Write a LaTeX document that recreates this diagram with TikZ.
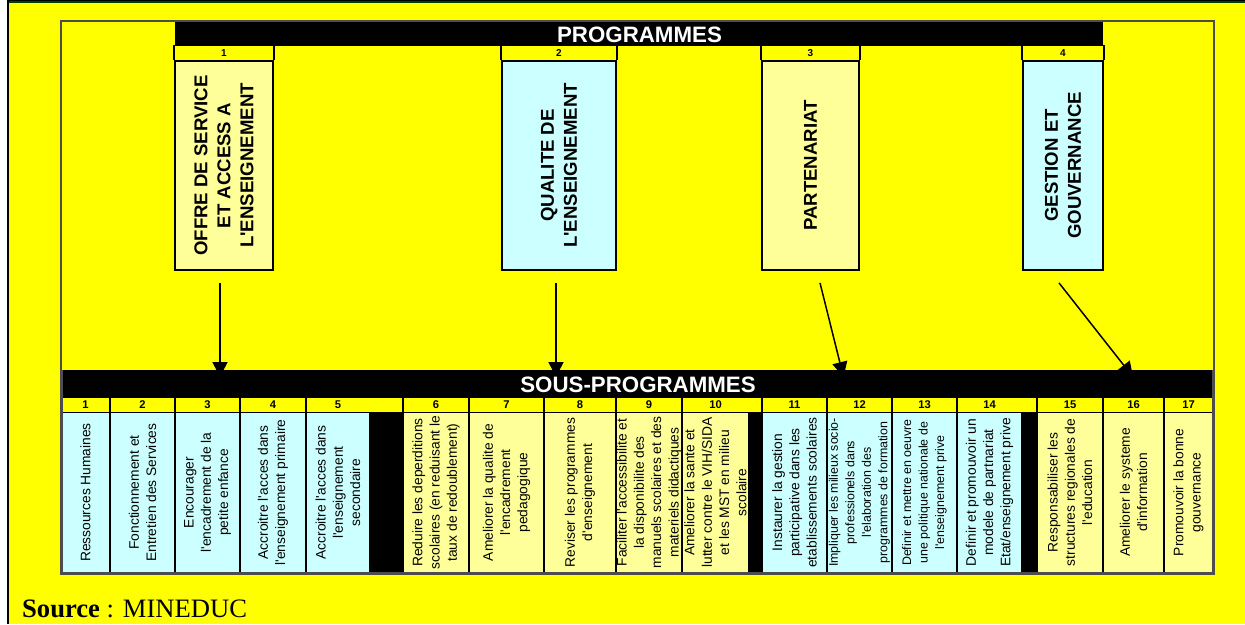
\documentclass[tikz,border=0pt]{standalone}
\usepackage{fontspec}
\newfontfamily\arialf{Liberation Sans}
\newfontfamily\timesf{Liberation Serif}
\usetikzlibrary{arrows.meta}
\definecolor{bgyel}{HTML}{FFFF00}
\definecolor{lyel}{HTML}{FFFF99}
\definecolor{lcyan}{HTML}{CCFFFF}
\definecolor{framegray}{HTML}{4D4D4D}
\definecolor{dgreen}{HTML}{004000}
\begin{document}
\begin{tikzpicture}[x=1pt,y=-1pt,
 pbox/.style={draw=black, line width=1.8pt, inner sep=0pt, anchor=center},
 ptext/.style={rotate=90, align=center, font={\arialf\bfseries\fontsize{18.6}{23}\selectfont}, inner sep=0pt},
 pnum/.style={font={\arialf\bfseries\fontsize{10}{12}\selectfont}, inner sep=0pt},
 snum/.style={font={\arialf\bfseries\fontsize{11.2}{13}\selectfont}, inner sep=0pt},
 scell/.style={draw=black, line width=1.5pt, inner sep=0pt, minimum height=161pt},
 stext/.style={rotate=90, align=center, font={\arialf\fontsize{13.8}{17.3}\selectfont}, inner sep=0pt},
 stextsmall/.style={stext, font={\arialf\fontsize{12.4}{16.5}\selectfont}},
 titletext/.style={text=white, font={\arialf\bfseries\fontsize{22.3}{26}\selectfont}, inner sep=0pt},
 arr/.style={line width=1.5pt, -{Triangle[length=15pt,width=15pt]}},
]
\useasboundingbox (0,0) rectangle (1245,624);
% background
\fill[white] (0,0) rectangle (7,624);
\fill[bgyel] (7,0) rectangle (1245,624);
\fill[black] (7,0) rectangle (9,624);
\fill[black] (7,0) rectangle (1245,1);
\fill[dgreen] (9,1) rectangle (1245,3);
% inner frame
\draw[framegray, line width=2pt] (61,21) rectangle (1214,574);

% PROGRAMMES bar
\fill[black] (175,22) rectangle (1103,46);
\node[titletext] (ptitle) at (639.5,34.5) {PROGRAMMES};

% programme boxes
\node[pbox, fill=lyel, minimum width=98pt, minimum height=209pt] (p1) at (224,165.5) {};
\node[pbox, fill=lcyan, minimum width=114pt, minimum height=209pt] (p2) at (559,165.5) {};
\node[pbox, fill=lyel, minimum width=97pt, minimum height=209pt] (p3) at (810.5,165.5) {};
\node[pbox, fill=lcyan, minimum width=80pt, minimum height=209pt] (p4) at (1063,165.5) {};
\foreach \p in {p1,p2,p3,p4}{
  \draw[line width=1.8pt] (\p.north west) -- ++(0,-15.5);
  \draw[line width=1.8pt] (\p.north east) -- ++(0,-15.5);
}
\node[pnum] (n1) at ([yshift=7.5pt]p1.north) {1};
\node[pnum] (n2) at ([yshift=7.5pt]p2.north) {2};
\node[pnum] (n3) at ([yshift=7.5pt]p3.north) {3};
\node[pnum] (n4) at ([yshift=7.5pt]p4.north) {4};
\node[ptext] (p1t) at (p1) {OFFRE DE SERVICE\\ET ACCESS A\\L'ENSEIGNEMENT};
\node[ptext] (p2t) at (p2) {QUALITE DE\\L'ENSEIGNEMENT};
\node[ptext] (p3t) at (p3) {PARTENARIAT};
\node[ptext] (p4t) at (p4) {GESTION ET\\GOUVERNANCE};

% arrows
\coordinate (e1) at (220,377);
\coordinate (e2) at (556,377);
\coordinate (e3) at (843.5,377);
\coordinate (e4) at (1133,377);
\draw[arr] ([xshift=-4pt,yshift=-12pt]p1.south) -- (e1);
\draw[arr] ([xshift=-3pt,yshift=-12pt]p2.south) -- (e2);
\draw[arr] ([xshift=9.5pt,yshift=-12pt]p3.south) -- (e3);
\draw[arr] ([xshift=-4pt,yshift=-12pt]p4.south) -- (e4);

% SOUS-PROGRAMMES bar
\fill[black] (61,370) rectangle (1214,398);
\node[titletext] (stitle) at (638,384.5) {SOUS-PROGRAMMES};

% separators
\fill[black] (370,412) rectangle (403,573);
\fill[black] (749,412) rectangle (762,573);
\fill[black] (1022,412) rectangle (1037,573);

% content cells
\node[scell, fill=lcyan, minimum width=49pt] (s1) at (85.5,492.5) {};
\node[scell, fill=lcyan, minimum width=65pt] (s2) at (142.5,492.5) {};
\node[scell, fill=lcyan, minimum width=65pt] (s3) at (207.5,492.5) {};
\node[scell, fill=lcyan, minimum width=66pt] (s4) at (273,492.5) {};
\node[scell, fill=lcyan, minimum width=64pt] (s5) at (338,492.5) {};
\node[scell, fill=lyel, minimum width=66pt] (s6) at (436,492.5) {};
\node[scell, fill=lyel, minimum width=75pt] (s7) at (506.5,492.5) {};
\node[scell, fill=lyel, minimum width=72pt] (s8) at (580,492.5) {};
\node[scell, fill=lyel, minimum width=66pt] (s9) at (649,492.5) {};
\node[scell, fill=lyel, minimum width=67pt] (s10) at (715.5,492.5) {};
\node[scell, fill=lcyan, minimum width=65pt] (s11) at (794.5,492.5) {};
\node[scell, fill=lcyan, minimum width=65pt] (s12) at (859.5,492.5) {};
\node[scell, fill=lcyan, minimum width=65pt] (s13) at (924.5,492.5) {};
\node[scell, fill=lcyan, minimum width=65pt] (s14) at (989.5,492.5) {};
\node[scell, fill=lyel, minimum width=66pt] (s15) at (1070,492.5) {};
\node[scell, fill=lyel, minimum width=61pt] (s16) at (1133.5,492.5) {};
\node[scell, fill=lyel, minimum width=49pt] (s17) at (1188.5,492.5) {};

% cell texts
\node[stext] (t1) at (s1) {Ressources Humaines};
\node[stext] (t2) at (s2) {Fonctionnement et\\Entretien des Services};
\node[stext] (t3) at (s3) {Encourager\\l'encadrement de la\\petite enfance};
\node[stext] (t4) at (s4) {Accroitre l'acces dans\\l'enseignement primaire};
\node[stext] (t5) at (s5) {Accroitre l'acces dans\\l'enseignement\\secondaire};
\node[stext] (t6) at (s6) {Reduire les deperditions\\scolaires (en reduisant le\\taux de redoublement)};
\node[stext] (t7) at (s7) {Ameliorer la qualite de\\l'encadrement\\pedagogique};
\node[stext] (t8) at (s8) {Reviser les programmes\\d'enseignement};
\node[stext] (t9) at (s9) {Faciliter l'accessibilite et\\la disponibilite des\\manuels scolaires et des\\materiels didactiques};
\node[stext] (t10) at (s10) {Ameliorer la sante et\\lutter contre le VIH/SIDA\\et les MST en milieu\\scolaire};
\node[stext] (t11) at (s11) {Instaurer la gestion\\participative dans les\\etablissements scolaires};
\node[stextsmall] (t12) at (s12) {Impliquer les milieux socio-\\professionels dans\\l'elaboration des\\programmes de formation};
\node[stextsmall] (t13) at (s13) {Definir et mettre en oeuvre\\une politique nationale de\\l'enseignement prive};
\node[stext] (t14) at (s14) {Definir et promouvoir un\\modele de partnariat\\Etat/enseignement prive};
\node[stext] (t15) at (s15) {Responsabiliser les\\structures regionales de\\l'education};
\node[stext] (t16) at (s16) {Ameliorer le systeme\\d'information};
\node[stext] (t17) at (s17) {Promouvoir la bonne\\gouvernance};

% number row
\fill[bgyel] (61,398) rectangle (1214,412);
\draw[line width=1.5pt] (61,412.5) -- (1214,412.5);
\foreach \xx in {110,175,240,306,403,469,544,616,682,762,827,892,957,1037,1103,1164}{
  \draw[line width=1.5pt] (\xx,398) -- (\xx,412.5);
}
\node[snum] (m1) at (85.5,405) {1};
\node[snum] (m2) at (142.5,405) {2};
\node[snum] (m3) at (207.5,405) {3};
\node[snum] (m4) at (273,405) {4};
\node[snum] (m5) at (338,405) {5};
\node[snum] (m6) at (436,405) {6};
\node[snum] (m7) at (506.5,405) {7};
\node[snum] (m8) at (580,405) {8};
\node[snum] (m9) at (649,405) {9};
\node[snum] (m10) at (715.5,405) {10};
\node[snum] (m11) at (794.5,405) {11};
\node[snum] (m12) at (859.5,405) {12};
\node[snum] (m13) at (924.5,405) {13};
\node[snum] (m14) at (989.5,405) {14};
\node[snum] (m15) at (1070,405) {15};
\node[snum] (m16) at (1133.5,405) {16};
\node[snum] (m17) at (1188.5,405) {17};

% table outer border
\draw[framegray, line width=2.5pt] (61.5,370) -- (61.5,573.5) -- (1213.5,573.5) -- (1213.5,370);

% source
\node[anchor=base west, inner sep=0pt, font={\timesf\fontsize{26.6}{30}\selectfont}] (src) at (22,617) {\textbf{Source} : MINEDUC};
\end{tikzpicture}
\end{document}
